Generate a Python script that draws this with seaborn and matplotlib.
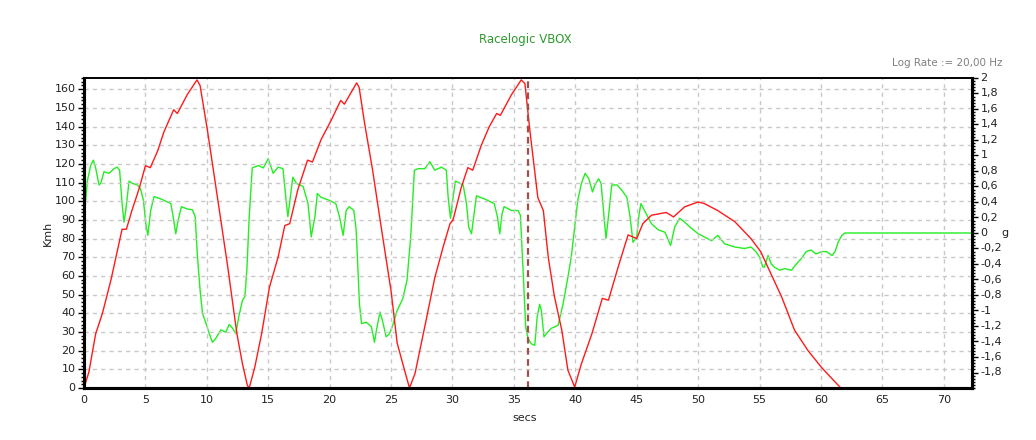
import numpy as np
import pandas as pd
import matplotlib
matplotlib.use("Agg")
import matplotlib.pyplot as plt
import seaborn as sns
from matplotlib.ticker import MultipleLocator

# ---- data ----
speed_t = [0, 0.4, 0.95, 1.5, 2.2, 2.7, 3.1, 3.45, 3.9, 4.5, 5.0, 5.4, 6.0, 6.5, 7.3, 7.6, 8.4, 9.2, 9.45,
           10.05, 10.9, 11.7, 12.45, 12.9, 13.3, 13.45,
           13.9, 14.46, 15.1, 15.8, 16.35, 16.75, 17.4, 18.2, 18.6, 19.3, 20.1, 20.9, 21.2, 22.2, 22.4,
           22.85, 23.5, 24.2, 25.0, 25.5, 26.1, 26.5,
           26.95, 27.75, 28.56, 29.24, 29.8, 30.05, 30.7, 31.25, 31.65, 32.35, 33.0, 33.6, 33.9, 34.8,
           35.6, 35.9, 36.3, 36.95, 37.4, 37.8, 38.3, 38.9, 39.4, 39.95,
           40.5, 41.35, 42.2, 42.7, 43.5, 44.3, 45.0, 45.5, 46.2, 47.4, 48.0, 48.9, 50.0, 50.5, 51.6,
           53.0, 54.3, 55.1, 55.8, 56.8, 57.85, 58.95, 60.05, 60.9, 61.55]
speed_kmh = [0, 8.6, 29, 40, 58, 73, 85, 85, 95, 107, 119, 118, 127, 137, 149, 147, 157, 165, 162,
             138, 100.5, 65, 29, 13, 1.4, 0,
             11, 29, 54, 70, 87, 88, 106, 122, 121, 133, 143, 154, 152, 163.4, 161,
             141.6, 116.6, 86, 52, 24, 9.5, 0,
             7.7, 33, 59, 75.5, 88, 90, 107, 118, 116.6, 130, 140, 147, 146, 157,
             165, 163, 138, 102, 95, 70, 49, 31, 9.5, 0.5,
             13, 29, 48, 47, 65, 82, 80, 88, 92.5, 94, 91.6, 97, 99.6, 98.8, 95,
             89, 80, 73, 63, 48.8, 31, 20, 11, 5, 0.5]

accel_t = [0, 0.27, 0.54, 0.76, 0.95, 1.22, 1.36, 1.63, 2.04, 2.45, 2.7, 2.9, 3.1, 3.26, 3.4, 3.67,
           3.94, 4.35, 4.6, 4.84, 5.03, 5.2, 5.43, 5.7, 6.25, 7.07, 7.26, 7.47, 7.66, 7.93, 8.4, 8.83,
           9.05, 9.24, 9.46, 9.65, 9.9, 10.2, 10.46, 10.73, 11.14, 11.55, 11.82, 12.1, 12.36, 12.6,
           12.9, 13.1, 13.26, 13.45, 13.7,
           13.84, 14.2, 14.6, 15.0, 15.4, 15.8, 16.2, 16.43, 16.6, 16.8, 17.0, 17.3, 17.84, 18.24, 18.5,
           18.8, 19.0, 19.3, 20.0, 20.5, 20.8, 21.1, 21.35, 21.6, 21.97, 22.16, 22.43, 22.6, 22.97,
           23.4, 23.65, 23.86, 24.1, 24.3, 24.6, 24.86, 25.1, 25.5, 25.95, 26.3, 26.6, 26.9, 27.2,
           27.75, 28.16, 28.56, 29.1, 29.5, 29.65, 29.84, 30.05, 30.24, 30.87, 31.14, 31.33, 31.55,
           31.8, 31.95, 32.6, 33.4, 33.66, 33.85, 34.04, 34.2, 34.8, 35.34, 35.53, 35.75, 35.96,
           36.15, 36.42, 36.7, 36.9, 37.1, 37.24, 37.45, 37.64, 38.05, 38.6, 39.0, 39.4, 39.67,
           39.95, 40.2, 40.5, 40.8, 41.1, 41.4, 41.6, 41.9, 42.1, 42.3, 42.5, 42.7, 42.97, 43.4,
           43.8, 44.2, 44.46, 44.7, 45.0, 45.2, 45.35, 45.7, 46.2, 46.76, 47.3, 47.76, 48.1, 48.5,
           48.9, 49.46, 50.0, 50.5, 51.1, 51.6, 52.16, 52.97, 53.78, 54.3, 54.7, 55.0, 55.27, 55.4,
           55.7, 55.96, 56.2, 56.64, 57.05, 57.6, 58.0, 58.4, 58.8, 59.2, 59.6, 60.05, 60.46, 60.9,
           61.15, 61.4, 61.7, 61.97, 72.3]
accel_g = [0.16, 0.67, 0.87, 0.94, 0.84, 0.62, 0.64, 0.79, 0.77, 0.83, 0.85, 0.81, 0.38, 0.14, 0.29, 0.67,
           0.64, 0.62, 0.57, 0.42, 0.12, -0.03, 0.29, 0.47, 0.44, 0.38, 0.21, -0.01, 0.16, 0.34, 0.31, 0.30,
           0.21, -0.31, -0.75, -1.04, -1.15, -1.30, -1.41, -1.36, -1.25, -1.28, -1.18, -1.23, -1.30, -1.08,
           -0.87, -0.82, -0.48, 0.21, 0.84,
           0.85, 0.87, 0.84, 0.96, 0.77, 0.85, 0.83, 0.46, 0.21, 0.46, 0.72, 0.64, 0.60, 0.38, -0.05,
           0.21, 0.51, 0.46, 0.42, 0.38, 0.21, -0.03, 0.29, 0.34, 0.29, 0.04, -0.92, -1.17, -1.15,
           -1.21, -1.41, -1.21, -1.02, -1.13, -1.34, -1.30, -1.21, -1.00, -0.85, -0.61, -0.05, 0.81, 0.83,
           0.83, 0.92, 0.81, 0.85, 0.81, 0.46, 0.19, 0.46, 0.67, 0.62, 0.38, 0.07, -0.01,
           0.29, 0.48, 0.44, 0.38, 0.21, -0.01, 0.25, 0.34, 0.29, 0.29, 0.23, -0.48, -1.21,
           -1.36, -1.43, -1.45, -1.08, -0.92, -1.00, -1.34, -1.30, -1.23, -1.19, -0.92, -0.57, -0.31,
           0.07, 0.42, 0.64, 0.77, 0.70, 0.53, 0.62, 0.70, 0.64, 0.29, -0.07, 0.21, 0.62, 0.62,
           0.55, 0.46, 0.21, -0.12, -0.05, 0.25, 0.38, 0.27, 0.12, 0.04, 0.01, -0.16, 0.08, 0.19,
           0.14, 0.06, -0.01, -0.05, -0.10, -0.03, -0.14, -0.18, -0.20, -0.18, -0.24, -0.31, -0.44, -0.44,
           -0.29, -0.40, -0.44, -0.48, -0.46, -0.48, -0.40, -0.33, -0.24, -0.22, -0.27, -0.24, -0.24, -0.29,
           -0.24, -0.12, -0.03, 0.0, 0.0]

marker_t = 36.15
left_ticks = list(range(0, 161, 10))
right_ticks = [round(-1.8 + 0.2 * i, 1) for i in range(20)]
right_labels = [("%g" % v).replace(".", ",") for v in right_ticks]

# ---- plot ----
sns.set_style("white")
plt.rcParams['font.family'] = ['DejaVu Sans']

fig = plt.figure(figsize=(10.36, 4.40), dpi=100)
ax = fig.add_axes([84/1036, 1 - 388/440, (972-84)/1036, (388-78)/440])

speed_df = pd.DataFrame({"secs": speed_t, "Kmh": speed_kmh})
accel_df = pd.DataFrame({"secs": accel_t, "g": accel_g})

ax.set_xlim(0, 72.3)
ax.set_ylim(0, 166)
ax.xaxis.set_major_locator(MultipleLocator(5))
ax.xaxis.set_minor_locator(MultipleLocator(1.25))
ax.set_yticks(left_ticks)
ax.yaxis.set_minor_locator(MultipleLocator(2))
ax.grid(True, which='major', color='#c8c8c8', linestyle=(0, (3, 3)), linewidth=1)
ax.set_axisbelow(True)

ax2 = ax.twinx()
ax2.set_ylim(-2, 2)
ax2.set_yticks(right_ticks)
ax2.set_yticklabels(right_labels)
ax2.yaxis.set_minor_locator(MultipleLocator(0.04))

sns.lineplot(data=accel_df, x="secs", y="g", ax=ax2, color='#22ee22', linewidth=1)
sns.lineplot(data=speed_df, x="secs", y="Kmh", ax=ax, color='#ff1a1a', linewidth=1)
ax.set_zorder(ax2.get_zorder() + 1)
ax.patch.set_visible(False)

ax.axvline(marker_t, color='#a0504a', linestyle=(0, (3, 2)), linewidth=1.6)

for a in (ax, ax2):
    for s in a.spines.values():
        s.set_color('black')
    a.spines['top'].set_linewidth(1.2)
    a.spines['left'].set_linewidth(2.2)
    a.spines['bottom'].set_linewidth(2.2)
    a.spines['right'].set_linewidth(2.2)

ax.tick_params(axis='both', which='major', direction='out', length=4, width=1, colors='black',
               labelsize=8, labelcolor='#222222', pad=2)
ax.tick_params(axis='both', which='minor', direction='out', length=2.5, width=1, colors='black')
ax.tick_params(axis='x', which='major', length=3)
ax2.tick_params(axis='y', which='major', direction='out', length=4, width=1, colors='black',
                labelsize=8, labelcolor='#222222', pad=2)
ax2.tick_params(axis='y', which='minor', direction='out', length=2.5, width=1, colors='black')
for lbl in ax.get_yticklabels() + ax2.get_yticklabels():
    lbl.set_va('center')

ax.set_xlabel("")
ax.set_ylabel("")
ax2.set_ylabel("")

fig.text(48/1036, 1 - 233/440, "Kmh", rotation=90, ha='center', va='center', fontsize=8, color='#222222')
fig.text(525/1036, 1 - 418/440, "secs", ha='center', va='center', fontsize=8, color='#222222')
fig.text(1005/1036, 1 - 233/440, "g", ha='center', va='center', fontsize=8, color='#222222')
fig.text(525/1036, 1 - 40/440, "Racelogic VBOX", ha='center', va='center', fontsize=8.5, color='#2e9a2e')
fig.text(1003/1036, 1 - 63/440, "Log Rate := 20,00 Hz", ha='right', va='center', fontsize=7.5, color='#808080')

fig.savefig("out.png", dpi=100)
